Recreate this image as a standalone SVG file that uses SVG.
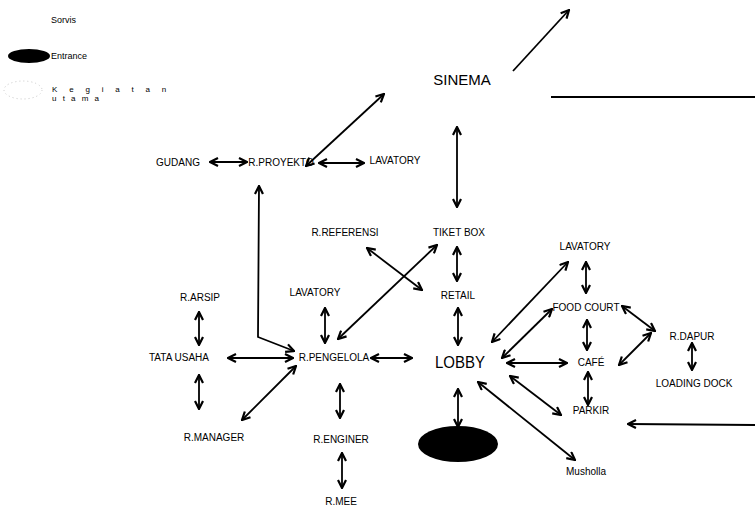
<svg xmlns="http://www.w3.org/2000/svg" width="755" height="508" viewBox="0 0 755 508">
<defs>
<marker id="ah" viewBox="0 0 10 10" refX="9" refY="5" markerWidth="10" markerHeight="10" markerUnits="userSpaceOnUse" orient="auto-start-reverse">
<path d="M1,1 L9,5 L1,9" fill="none" stroke="#000" stroke-width="2.2"/>
</marker>
<style>
text{font-family:"Liberation Sans",Arial,sans-serif;font-size:10px;fill:#000;text-anchor:middle}
.leg{text-anchor:start;font-size:9px}
.c line,.c polyline{stroke:#000;stroke-width:1.8;fill:none}
.d{marker-start:url(#ah);marker-end:url(#ah)}
.s{marker-end:url(#ah)}
</style>
</defs>
<rect width="755" height="508" fill="#fff"/>
<g id="legend">
<text class="leg" x="51" y="23">Sorvis</text>
<ellipse cx="29" cy="56" rx="21" ry="7" fill="#000"/>
<text class="leg" x="51" y="59">Entrance</text>
<ellipse cx="23" cy="90" rx="19" ry="9" fill="none" stroke="#c8c8c8" stroke-width="1" stroke-dasharray="1,3"/>
<text class="leg" x="52" y="92" style="font-size:8px;letter-spacing:11.8px">Kegiatan</text>
<text class="leg" x="52" y="101" style="font-size:8px;letter-spacing:6.2px">utama</text>
</g>
<g class="c" id="connectors">
<line class="s" x1="513" y1="71" x2="569" y2="10"/>
<line x1="551" y1="97" x2="755" y2="97"/>
<line class="d" x1="457" y1="127" x2="457" y2="207"/>
<line class="d" x1="384" y1="94" x2="306" y2="166"/>
<line class="d" x1="210" y1="162" x2="247" y2="162"/>
<line class="d" x1="319" y1="163" x2="364" y2="163"/>
<polyline class="d" points="259,186 258,337 294,351"/>
<line class="d" x1="367" y1="248" x2="422" y2="290"/>
<line class="d" x1="437" y1="245" x2="338" y2="339"/>
<line class="d" x1="457" y1="247" x2="457" y2="281"/>
<line class="d" x1="458" y1="308" x2="458" y2="345"/>
<line class="d" x1="458" y1="389" x2="458" y2="427"/>
<line class="d" x1="325" y1="308" x2="325" y2="343"/>
<line class="d" x1="371" y1="358" x2="412" y2="358"/>
<line class="d" x1="199" y1="312" x2="199" y2="345"/>
<line class="d" x1="228" y1="358" x2="293" y2="358"/>
<line class="d" x1="199" y1="375" x2="199" y2="409"/>
<line class="d" x1="242" y1="420" x2="296" y2="366"/>
<line class="d" x1="340" y1="384" x2="340" y2="418"/>
<line class="d" x1="342" y1="453" x2="342" y2="488"/>
<line class="d" x1="492" y1="342" x2="568" y2="262"/>
<line class="d" x1="586" y1="262" x2="586" y2="293"/>
<line class="d" x1="502" y1="358" x2="552" y2="309"/>
<line class="d" x1="507" y1="363" x2="567" y2="363"/>
<line class="d" x1="587" y1="320" x2="587" y2="350"/>
<line class="d" x1="588" y1="372" x2="588" y2="405"/>
<line class="d" x1="510" y1="376" x2="561" y2="415"/>
<line class="d" x1="478" y1="382" x2="575" y2="460"/>
<line class="d" x1="622" y1="306" x2="655" y2="331"/>
<line class="d" x1="651" y1="333" x2="619" y2="365"/>
<line class="d" x1="692" y1="343" x2="692" y2="370"/>
<line class="s" x1="755" y1="425" x2="628" y2="424"/>
</g>
<g id="sinema"><text x="462" y="85" style="font-size:15px">SINEMA</text></g>
<g id="gudang"><text x="178" y="166">GUDANG</text></g>
<g id="r-proyektor"><text x="281" y="166">R.PROYEKTO</text></g>
<g id="lavatory-1"><text x="395" y="164">LAVATORY</text></g>
<g id="r-referensi"><text x="345" y="236">R.REFERENSI</text></g>
<g id="tiket-box"><text x="459" y="236">TIKET BOX</text></g>
<g id="retail"><text x="458" y="299">RETAIL</text></g>
<g id="lobby"><text x="460" y="368" style="font-size:17px" textLength="50" lengthAdjust="spacingAndGlyphs">LOBBY</text></g>
<g id="entrance"><ellipse cx="458" cy="444" rx="40" ry="18" fill="#000"/></g>
<g id="lavatory-2"><text x="315" y="296">LAVATORY</text></g>
<g id="r-pengelola"><text x="334" y="361">R.PENGELOLA</text></g>
<g id="r-arsip"><text x="200" y="301">R.ARSIP</text></g>
<g id="tata-usaha"><text x="179" y="361">TATA USAHA</text></g>
<g id="r-manager"><text x="214" y="441">R.MANAGER</text></g>
<g id="r-enginer"><text x="341" y="443">R.ENGINER</text></g>
<g id="r-mee"><text x="341" y="505">R.MEE</text></g>
<g id="lavatory-3"><text x="585" y="250">LAVATORY</text></g>
<g id="food-court"><text x="586" y="311">FOOD COURT</text></g>
<g id="cafe"><text x="591" y="366">CAFÉ</text></g>
<g id="parkir"><text x="591" y="414">PARKIR</text></g>
<g id="musholla"><text x="586" y="475">Musholla</text></g>
<g id="r-dapur"><text x="692" y="340">R.DAPUR</text></g>
<g id="loading-dock"><text x="694" y="387">LOADING DOCK</text></g>
</svg>
